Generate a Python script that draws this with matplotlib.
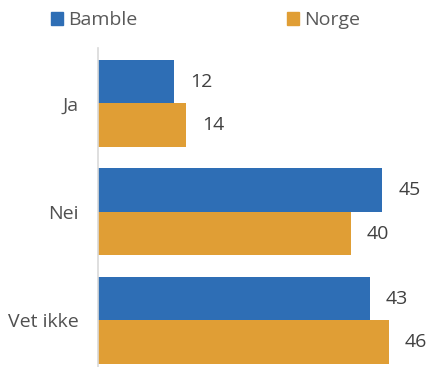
import matplotlib
matplotlib.use('Agg')
import matplotlib.pyplot as plt
from matplotlib.patches import Patch
import numpy as np

# data
categories = ['Ja', 'Nei', 'Vet ikke']
bamble = [12, 45, 43]
norge = [14, 40, 46]
series_names = ['Bamble', 'Norge']

blue = '#2E6EB5'
orange = '#E09E35'
txt = '#404040'

plt.rcParams['font.family'] = ['Open Sans', 'DejaVu Sans']

fig = plt.figure(figsize=(4.31, 3.67), dpi=100)
ax = fig.add_axes([98/431, 0.0, 316/431, 319/367])

y = np.arange(len(categories))
h = 0.4
ax.barh(y - h/2, bamble, height=h, color=blue)
ax.barh(y + h/2, norge, height=h, color=orange)

# value labels just outside the bar ends
for yi, v in zip(y, bamble):
    ax.annotate(str(v), (v, yi - h/2), xytext=(11.5, 0), textcoords='offset points',
                va='center', ha='left', fontsize=14, color=txt)
for yi, v in zip(y, norge):
    ax.annotate(str(v), (v, yi + h/2), xytext=(11.5, 0), textcoords='offset points',
                va='center', ha='left', fontsize=14, color=txt)

ax.set_xlim(0, 50)
ax.set_ylim(2.43, -0.51)
ax.set_yticks(y)
ax.set_yticklabels(categories, fontsize=14, color='#505050')
ax.tick_params(axis='y', length=0, pad=14)
ax.set_xticks([])
for s in ['top', 'right', 'bottom']:
    ax.spines[s].set_visible(False)
ax.spines['left'].set_color('#D9D9D9')
ax.spines['left'].set_linewidth(1.2)

handles = [Patch(color=blue, label=series_names[0]), Patch(color=orange, label=series_names[1])]
fig.legend(handles=handles, loc='center left', bbox_to_anchor=(51/431, 0.945), ncol=2, frameon=False,
           fontsize=14, handlelength=0.62, handleheight=0.62, handletextpad=0.26,
           borderpad=0, borderaxespad=0, columnspacing=7.7, labelcolor='#595959')

fig.savefig('out.png', dpi=100)
